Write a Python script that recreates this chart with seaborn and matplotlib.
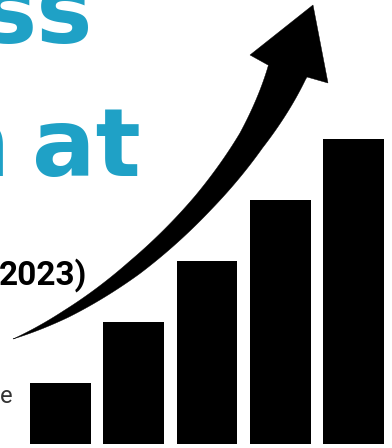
import numpy as np
import pandas as pd
import matplotlib
matplotlib.use("Agg")
import matplotlib.pyplot as plt
import seaborn as sns
from matplotlib.patches import Polygon

# ---- data ----
years = ["2019", "2020", "2021", "2022", "2023"]
growth = [1, 2, 3, 4, 5]

title_line1 = "ss"
title_line2 = ["n", "at"]
subtitle = "2023)"
side_note = "e"

CYAN = "#1fa1c6"

sns.set_theme(style="white")
plt.rcParams['font.family'] = ['DejaVu Sans']

W, H = 392, 448
fig = plt.figure(figsize=(W / 100, H / 100), dpi=100)
fig.patch.set_facecolor("white")

# bar axes (pixel box: x 30..384, y 139..444)
ax = fig.add_axes([30 / W, (H - 444) / H, 354 / W, 305 / H])
df = pd.DataFrame({"year": years, "growth": growth})
sns.barplot(data=df, x="year", y="growth", color="black", saturation=1,
            width=0.83, ax=ax, edgecolor="none")
ax.set_xlim(-0.415, 4.415)
ax.set_ylim(0, 5)
ax.set_axis_off()

# overlay axes in pixel coordinates
ov = fig.add_axes([0, 0, 1, 1])
ov.set_xlim(0, W)
ov.set_ylim(H, 0)
ov.set_axis_off()
ov.patch.set_alpha(0)

# ---- curved arrow (cubic Bezier centre line) ----
P0 = np.array([13.0, 339.0])
P3 = np.array([287.5, 71.0])
P1 = P0 + 130 * np.array([0.934, -0.358])
P2 = P3 - 110 * np.array([0.358, -0.934])
t = np.linspace(0, 1, 200)[:, None]
c = ((1 - t) ** 3) * P0 + 3 * ((1 - t) ** 2) * t * P1 + 3 * (1 - t) * t * t * P2 + t ** 3 * P3
tan = 3 * ((1 - t) ** 2) * (P1 - P0) + 6 * (1 - t) * t * (P2 - P1) + 3 * t * t * (P3 - P2)
tan /= np.hypot(tan[:, 0], tan[:, 1])[:, None]
seg = np.hypot(*np.diff(c, axis=0).T)
s = np.concatenate([[0], np.cumsum(seg)])
s /= s[-1]
wf = np.interp(s, [0, 0.15, 0.36, 0.6, 0.8, 1.0], [0, 8, 16, 21, 27, 40])
nrm = np.column_stack([tan[:, 1], -tan[:, 0]])
left = c + nrm * wf[:, None] / 2
right = c - nrm * wf[:, None] / 2
head = np.array([(268, 65), (250, 55), (313, 5), (328, 83), (307, 77)], dtype=float)
poly = np.vstack([left[:-1], head, right[:-1][::-1]])
ov.add_patch(Polygon(poly, closed=True, facecolor="black", edgecolor="black",
                     linewidth=0.3, zorder=5))

# ---- texts ----
ov.text(93, 43, title_line1, color=CYAN, fontsize=68, fontweight="bold",
        ha="right", va="baseline", family=["DejaVu Sans"])
ov.text(9, 176, title_line2[0], color=CYAN, fontsize=68, fontweight="bold",
        ha="right", va="baseline", family=["DejaVu Sans"])
ov.text(141, 176, title_line2[1], color=CYAN, fontsize=68, fontweight="bold",
        ha="right", va="baseline", family=["DejaVu Sans"])
ov.text(87, 285, subtitle, color="black", fontsize=24, fontweight="bold",
        ha="right", va="baseline", family=["Roboto"])
ov.text(13, 403, side_note, color="#333333", fontsize=17,
        ha="right", va="baseline", family=["Roboto"])

fig.savefig("out.png", dpi=100, facecolor="white")
